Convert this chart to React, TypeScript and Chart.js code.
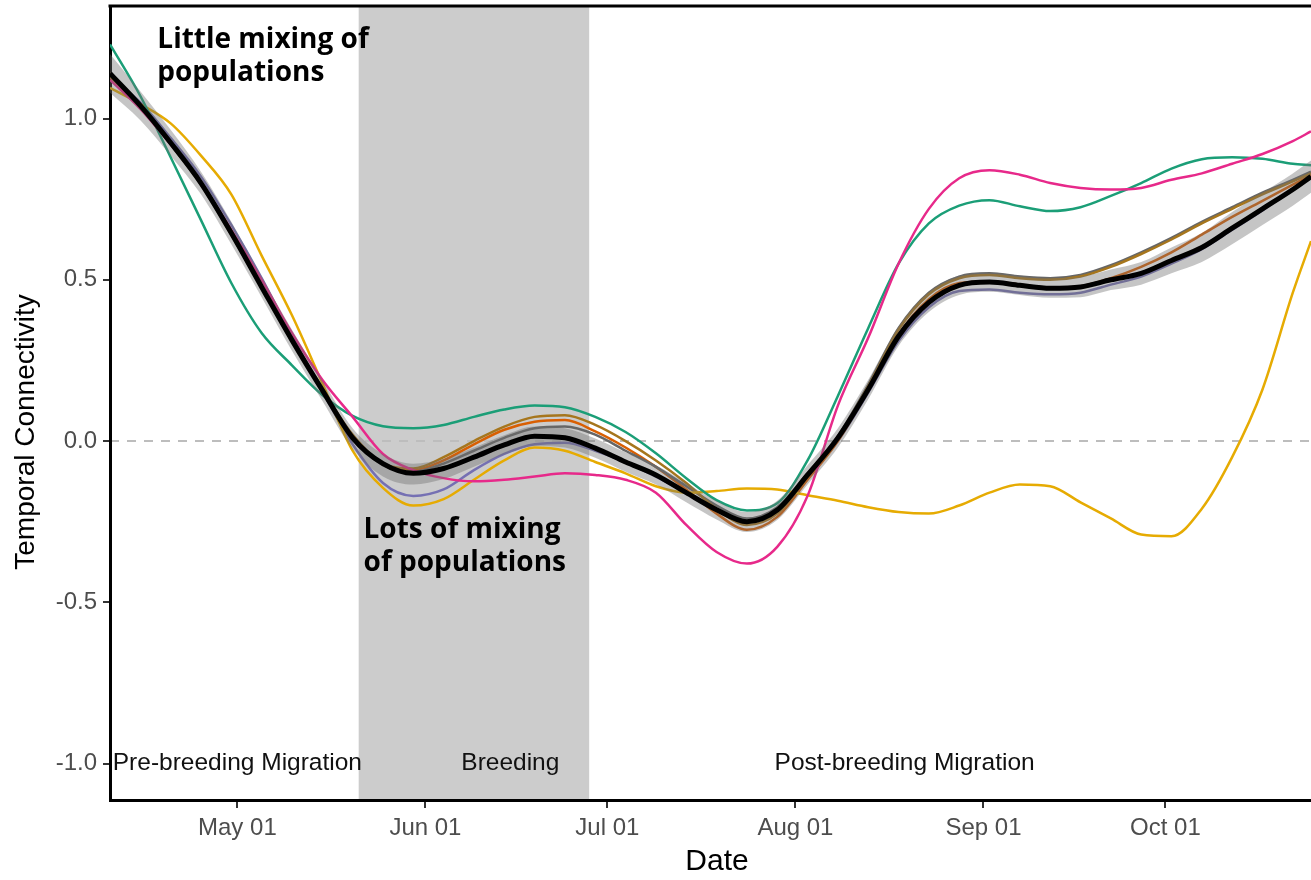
import React, { useEffect, useRef } from "react";
import { Chart, registerables } from "chart.js";

Chart.register(...registerables);

// Day of year (non-leap year): 100 = Apr 10, 121 = May 01 ... 298 = Oct 25
const days = [100, 105, 110, 115, 120, 125, 130, 135, 140, 145, 150, 155, 160, 165, 170, 175, 180, 185, 190, 195, 200, 205, 210, 215, 220, 225, 230, 235, 240, 245, 250, 255, 260, 265, 270, 275, 280, 285, 290, 295, 298];

const tickDays = [121, 152, 182, 213, 244, 274];
const tickLabels = ["May 01", "Jun 01", "Jul 01", "Aug 01", "Sep 01", "Oct 01"];
const yTicks = [-1, -0.5, 0, 0.5, 1];

const breedingStart = 141;
const breedingEnd = 179;

const phaseLabels = ["Pre-breeding Migration", "Breeding", "Post-breeding Migration"];
const phaseCenters = [121, 166, 231];
const phaseY = -1.0;

const noteTop = ["Little mixing of", "populations"];
const noteBottom = ["Lots of mixing", "of populations"];

const teal = [1.23, 1.07, 0.88, 0.685, 0.49, 0.335, 0.235, 0.143, 0.078, 0.046, 0.04, 0.05, 0.075, 0.098, 0.11, 0.105, 0.075, 0.028, -0.038, -0.115, -0.183, -0.215, -0.193, -0.06, 0.14, 0.35, 0.55, 0.675, 0.73, 0.747, 0.728, 0.713, 0.725, 0.76, 0.8, 0.845, 0.874, 0.88, 0.875, 0.86, 0.855];
const pink = [1.12, 1.03, 0.92, 0.8, 0.655, 0.5, 0.335, 0.19, 0.075, -0.04, -0.09, -0.115, -0.125, -0.12, -0.11, -0.1, -0.105, -0.12, -0.16, -0.26, -0.344, -0.38, -0.328, -0.17, 0.11, 0.32, 0.55, 0.72, 0.815, 0.84, 0.826, 0.8, 0.785, 0.78, 0.785, 0.81, 0.83, 0.86, 0.89, 0.93, 0.96];
const yellow = [1.095, 1.045, 0.985, 0.885, 0.765, 0.575, 0.39, 0.18, -0.03, -0.145, -0.2, -0.18, -0.12, -0.06, -0.02, -0.03, -0.065, -0.1, -0.14, -0.16, -0.155, -0.147, -0.15, -0.168, -0.185, -0.205, -0.22, -0.225, -0.2, -0.16, -0.135, -0.14, -0.19, -0.24, -0.29, -0.295, -0.21, -0.05, 0.16, 0.46, 0.62];
const purple = [1.13, 1.05, 0.94, 0.82, 0.67, 0.505, 0.325, 0.155, -0.01, -0.13, -0.17, -0.15, -0.09, -0.04, -0.01, -0.005, -0.03, -0.065, -0.11, -0.16, -0.215, -0.25, -0.215, -0.11, 0.0, 0.15, 0.31, 0.415, 0.465, 0.47, 0.46, 0.455, 0.46, 0.485, 0.51, 0.55, 0.595, 0.655, 0.715, 0.78, 0.82];
const orange = [1.14, 1.04, 0.925, 0.8, 0.645, 0.48, 0.315, 0.16, 0.015, -0.07, -0.09, -0.06, -0.01, 0.035, 0.06, 0.065, 0.03, -0.02, -0.08, -0.15, -0.225, -0.275, -0.235, -0.12, 0.0, 0.16, 0.33, 0.44, 0.49, 0.495, 0.485, 0.475, 0.48, 0.505, 0.54, 0.585, 0.64, 0.695, 0.745, 0.795, 0.825];
const brown = [1.13, 1.035, 0.92, 0.795, 0.64, 0.475, 0.31, 0.16, 0.02, -0.07, -0.085, -0.05, 0.0, 0.045, 0.075, 0.08, 0.05, 0.0, -0.06, -0.13, -0.21, -0.26, -0.225, -0.11, 0.01, 0.17, 0.345, 0.455, 0.505, 0.515, 0.505, 0.5, 0.51, 0.54, 0.58, 0.625, 0.675, 0.72, 0.765, 0.805, 0.83];
const gray = [1.14, 1.04, 0.925, 0.8, 0.645, 0.48, 0.315, 0.16, 0.015, -0.075, -0.095, -0.07, -0.03, 0.01, 0.04, 0.045, 0.02, -0.03, -0.08, -0.14, -0.2, -0.24, -0.205, -0.1, 0.015, 0.175, 0.35, 0.46, 0.51, 0.52, 0.51, 0.505, 0.515, 0.545, 0.585, 0.63, 0.68, 0.725, 0.77, 0.81, 0.835];
const mean = [1.14, 1.04, 0.925, 0.8, 0.645, 0.478, 0.313, 0.158, 0.01, -0.07, -0.1, -0.085, -0.05, -0.012, 0.015, 0.01, -0.022, -0.065, -0.105, -0.16, -0.213, -0.25, -0.214, -0.105, 0.01, 0.16, 0.325, 0.43, 0.483, 0.493, 0.483, 0.474, 0.478, 0.5, 0.52, 0.56, 0.6, 0.66, 0.72, 0.78, 0.82];
const bandUpper = [1.2, 1.085, 0.965, 0.835, 0.68, 0.51, 0.345, 0.19, 0.04, -0.04, -0.07, -0.055, -0.02, 0.018, 0.045, 0.04, 0.008, -0.035, -0.075, -0.13, -0.185, -0.22, -0.185, -0.075, 0.04, 0.19, 0.355, 0.46, 0.513, 0.523, 0.513, 0.504, 0.51, 0.532, 0.555, 0.6, 0.645, 0.71, 0.77, 0.83, 0.87];
const bandLower = [1.08, 0.995, 0.885, 0.765, 0.61, 0.446, 0.28, 0.125, -0.025, -0.11, -0.135, -0.118, -0.08, -0.042, -0.015, -0.02, -0.052, -0.095, -0.135, -0.19, -0.243, -0.282, -0.245, -0.135, -0.02, 0.13, 0.295, 0.4, 0.453, 0.463, 0.453, 0.444, 0.446, 0.468, 0.485, 0.52, 0.555, 0.61, 0.67, 0.73, 0.77];

const pts = (vals: number[]) => days.map((d, i) => ({ x: d, y: vals[i] }));

const decor = {
  id: "decor",
  beforeDraw(chart: any) {
    const { ctx, chartArea, scales } = chart;
    const { left, right, top, bottom } = chartArea;
    const x = scales.x;
    const y = scales.y;
    ctx.save();
    ctx.beginPath();
    ctx.rect(left, top, right - left, bottom - top);
    ctx.clip();
    const x0 = x.getPixelForValue(breedingStart);
    const x1 = x.getPixelForValue(breedingEnd);
    ctx.fillStyle = "#cccccc";
    ctx.fillRect(x0, top, x1 - x0, bottom - top);
    const y0 = y.getPixelForValue(0);
    ctx.strokeStyle = "#bdbdbd";
    ctx.lineWidth = 2;
    ctx.setLineDash([9, 8]);
    ctx.beginPath();
    ctx.moveTo(left, y0);
    ctx.lineTo(right, y0);
    ctx.stroke();
    ctx.setLineDash([]);
    ctx.fillStyle = "#111111";
    ctx.font = '24.5px "Liberation Sans", Arial, sans-serif';
    ctx.textAlign = "center";
    ctx.textBaseline = "middle";
    phaseLabels.forEach((t, i) => {
      ctx.fillText(t, x.getPixelForValue(phaseCenters[i]), y.getPixelForValue(phaseY));
    });
    ctx.restore();
  },
  afterDraw(chart: any) {
    const { ctx, chartArea, scales } = chart;
    const { left, right, top } = chartArea;
    const x = scales.x;
    const y = scales.y;
    ctx.save();
    // top border of panel
    ctx.strokeStyle = "#000";
    ctx.lineWidth = 3;
    ctx.beginPath();
    ctx.moveTo(left - 1.5, top);
    ctx.lineTo(right, top);
    ctx.stroke();
    // annotations
    ctx.fillStyle = "#000";
    ctx.font = 'bold 28px "Open Sans", sans-serif';
    ctx.textAlign = "left";
    ctx.textBaseline = "middle";
    ctx.fillText(noteTop[0], x.getPixelForValue(107.8), y.getPixelForValue(1.243));
    ctx.fillText(noteTop[1], x.getPixelForValue(107.8), y.getPixelForValue(1.141));
    ctx.fillText(noteBottom[0], x.getPixelForValue(141.8), y.getPixelForValue(-0.276));
    ctx.fillText(noteBottom[1], x.getPixelForValue(141.8), y.getPixelForValue(-0.378));
    // axis titles
    ctx.font = '28px "Liberation Sans", Arial, sans-serif';
    ctx.textAlign = "center";
    ctx.save();
    ctx.translate(26, 432);
    ctx.rotate(-Math.PI / 2);
    ctx.fillText("Temporal Connectivity", 0, 0);
    ctx.restore();
    ctx.font = '30px "Liberation Sans", Arial, sans-serif';
    ctx.fillText("Date", 717, 862);
    ctx.restore();
  },
};

export default function App() {
  const ref = useRef<HTMLCanvasElement | null>(null);
  useEffect(() => {
    if (!ref.current) return;
    Chart.defaults.font.family = '"Liberation Sans", Arial, sans-serif';
    const line = (label: string, vals: number[], color: string, order: number, width = 2.5) => ({
      label,
      data: pts(vals),
      borderColor: color,
      backgroundColor: color,
      borderWidth: width,
      pointRadius: 0,
      cubicInterpolationMode: "monotone" as const,
      fill: false,
      order,
    });
    const chart = new Chart(ref.current, {
      type: "line",
      data: {
        datasets: [
          line("pink", pink, "#E7298A", 3),
          line("teal", teal, "#1B9E77", 3),
          line("yellow", yellow, "#E6AB02", 3),
          line("brown", brown, "#A6761D", 4),
          line("gray", gray, "#666666", 5),
          line("orange", orange, "#D95F02", 5),
          line("purple", purple, "#7570B3", 6),
          {
            label: "lower",
            data: pts(bandLower),
            borderWidth: 0,
            borderColor: "rgba(0,0,0,0)",
            pointRadius: 0,
            cubicInterpolationMode: "monotone" as const,
            fill: false,
            order: 2,
          },
          {
            label: "upper",
            data: pts(bandUpper),
            borderWidth: 0,
            borderColor: "rgba(0,0,0,0)",
            backgroundColor: "rgba(110,110,110,0.4)",
            pointRadius: 0,
            cubicInterpolationMode: "monotone" as const,
            fill: "-1",
            order: 2,
          },
          line("mean", mean, "#000000", 0, 5),
        ] as any,
      },
      options: {
        animation: false,
        responsive: false,
        events: [],
        layout: { padding: { top: 6, left: 0, right: 0, bottom: 0 } },
        plugins: {
          legend: { display: false },
          tooltip: { enabled: false },
          title: { display: false },
        },
        scales: {
          x: {
            type: "linear",
            min: 100,
            max: 298,
            afterFit: (s: any) => {
              s.height = 80;
              s.paddingLeft = 0;
              s.paddingRight = 0;
            },
            afterBuildTicks: (s: any) => {
              s.ticks = tickDays.map((v) => ({ value: v }));
            },
            ticks: {
              autoSkip: false,
              maxRotation: 0,
              padding: 6,
              color: "#4d4d4d",
              font: { size: 24 },
              callback: (_v: any, i: number) => tickLabels[i],
            },
            grid: {
              display: true,
              drawOnChartArea: false,
              drawTicks: true,
              tickLength: 8,
              color: "#333333",
              lineWidth: 2,
            },
            border: { display: true, color: "#000", width: 3 },
          },
          y: {
            type: "linear",
            min: -1.113,
            max: 1.349,
            afterFit: (s: any) => {
              s.width = 110;
              s.paddingTop = 0;
              s.paddingBottom = 0;
            },
            afterBuildTicks: (s: any) => {
              s.ticks = yTicks.map((v) => ({ value: v }));
            },
            ticks: {
              padding: 6,
              color: "#4d4d4d",
              font: { size: 24 },
              callback: (v: any) => Number(v).toFixed(1),
            },
            grid: {
              display: true,
              drawOnChartArea: false,
              drawTicks: true,
              tickLength: 7,
              color: "#333333",
              lineWidth: 2,
            },
            border: { display: true, color: "#000", width: 3 },
          },
        },
      } as any,
      plugins: [decor],
    });
    return () => chart.destroy();
  }, []);
  return (
    <div style={{ position: "fixed", left: 0, top: 0, width: 1311, height: 880, background: "#fff" }}>
      <canvas ref={ref} width={1311} height={880} style={{ display: "block", width: 1311, height: 880 }} />
    </div>
  );
}
